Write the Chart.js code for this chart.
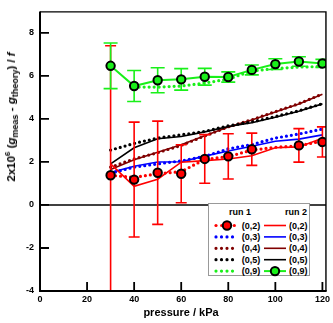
<!DOCTYPE html>
<html><head><meta charset="utf-8">
<script src="https://cdn.jsdelivr.net/npm/chart.js@4/dist/chart.umd.min.js"></script>
<style>
html,body{margin:0;padding:0;background:#fff;}
#wrap{position:relative;width:333px;height:323px;font-family:"Liberation Sans",Arial,sans-serif;color:#000;}
#c{position:absolute;left:0;top:0;}
#ytitle{position:absolute;left:11px;top:117px;transform:translate(-50%,-50%) rotate(-90deg);white-space:nowrap;font-weight:bold;font-size:11.5px;line-height:14px;}
#ytitle sub,#ytitle sup{font-size:9px;line-height:0;}
#ytitle sup{font-size:8px;}
#xtitle{position:absolute;left:181px;top:312px;transform:translate(-50%,-50%);font-weight:bold;font-size:11px;white-space:nowrap;}
#legend{position:absolute;left:208px;top:203px;width:102px;height:73px;border:1px solid #999;background:#fff;font-weight:bold;font-size:9px;box-sizing:border-box;}
#legend svg{position:absolute;left:-1px;top:-1px;}
#legend .t{position:absolute;white-space:nowrap;line-height:10px;transform:translateY(-50%);}
#legend .h{transform:translate(-50%,-50%);}
</style>
</head><body>
<div id="wrap">
<canvas id="c" width="333" height="323"></canvas>
<div id="ytitle">2x10<sup>6</sup> (<i>g</i><sub>meas</sub> - <i>g</i><sub>theory</sub>) / <i>f</i></div>
<div id="xtitle">pressure / kPa</div>
<div id="legend"></div>
</div>
<script>
// ---- data ----
const pressure = [30, 40, 50, 60, 70, 80, 90, 100, 110, 120];
const xTicks = [0, 20, 40, 60, 80, 100, 120];
const yTicks = [-4, -2, 0, 2, 4, 6, 8];

// run 1 (dotted lines)
const run1_02 = [1.38, 1.28, 1.45, 1.55, 2.12, 2.25, 2.55, 2.68, 2.75, 2.97];
const run1_03 = [1.48, 1.76, 1.91, 2.05, 2.26, 2.61, 2.81, 3.11, 3.30, 3.53];
const run1_04 = [1.76, 2.14, 2.43, 2.77, 3.21, 3.63, 3.96, 4.34, 4.71, 5.16];
const run1_05 = [2.55, 2.86, 3.11, 3.26, 3.42, 3.68, 3.86, 4.11, 4.38, 4.71];
const run1_09_p = [40, 50, 60, 70, 80, 90, 100, 110, 120];
const run1_09 = [5.48, 5.48, 5.53, 5.67, 5.85, 6.23, 6.34, 6.41, 6.44];

// run 1 (0,2) measured points with error bars
const run1_02pts_p = [30, 40, 50, 60, 70, 80, 90, 110, 120];
const run1_02pts = [1.38, 1.18, 1.50, 1.45, 2.14, 2.26, 2.59, 2.77, 2.93];
const run1_02err = [6.02, 2.67, 2.40, 1.35, 1.13, 1.05, 0.75, 0.78, 0.70];

// run 2 (solid lines)
const run2_02 = [1.91, 0.87, 1.20, 1.99, 2.06, 2.14, 2.29, 2.66, 2.70, 3.10];
const run2_03 = [1.51, 1.80, 2.00, 2.01, 2.27, 2.51, 2.73, 2.96, 3.06, 3.26];
const run2_04 = [1.65, 2.10, 2.45, 2.80, 3.22, 3.62, 3.95, 4.32, 4.70, 5.15];
const run2_05 = [1.91, 2.66, 3.08, 3.18, 3.40, 3.65, 3.82, 4.08, 4.36, 4.70];
const run2_09 = [6.47, 5.53, 5.80, 5.84, 5.96, 5.95, 6.28, 6.55, 6.67, 6.58];
const run2_09err = [1.06, 0.72, 0.58, 0.50, 0.39, 0.24, 0.23, 0.25, 0.22, 0.19];

const RED = '#ff0000', BLUE = '#0000ff', BROWN = '#800000', BLACK = '#000000', GREEN = '#19f019';

function pts(xs, ys) { return xs.map((x, i) => ({ x: x, y: ys[i] })); }

function dotted(label, ys, color, order, xs) {
  return { label, data: pts(xs || pressure, ys), borderColor: color, borderWidth: 3.2,
    borderDash: [0, 5], borderCapStyle: 'round', pointRadius: 0, fill: false, tension: 0, order };
}
function solid(label, ys, color, order) {
  return { label, data: pts(pressure, ys), borderColor: color, borderWidth: 1.6,
    pointRadius: 0, fill: false, tension: 0, order };
}

const datasets = [
  Object.assign(solid('run 2 (0,9)', run2_09, GREEN, 0), {
    borderWidth: 2, pointRadius: 4.2, pointBorderWidth: 2, pointBackgroundColor: GREEN,
    pointBorderColor: BLACK, errors: run2_09err, errorColor: GREEN, cap: 7 }),
  dotted('run 1 (0,9)', run1_09, GREEN, 1, run1_09_p),
  { label: 'run 1 (0,2) points', data: pts(run1_02pts_p, run1_02pts), showLine: false,
    pointRadius: 4.2, pointBorderWidth: 2, pointBackgroundColor: RED, pointBorderColor: BLACK,
    errors: run1_02err, errorColor: RED, cap: 5.5, order: 2 },
  dotted('run 1 (0,2)', run1_02, RED, 3),
  solid('run 2 (0,2)', run2_02, RED, 4),
  dotted('run 1 (0,5)', run1_05, BLACK, 5),
  solid('run 2 (0,5)', run2_05, BLACK, 6),
  dotted('run 1 (0,4)', run1_04, BROWN, 7),
  solid('run 2 (0,4)', run2_04, BROWN, 8),
  dotted('run 1 (0,3)', run1_03, BLUE, 9),
  solid('run 2 (0,3)', run2_03, BLUE, 10),
];

const errorBars = {
  id: 'errorBars',
  beforeDatasetDraw(chart, args) {
    const ds = chart.data.datasets[args.index];
    if (!ds.errors) return;
    const { ctx, chartArea: a } = chart;
    const xs = chart.scales.x, ys = chart.scales.y;
    ctx.save();
    ctx.beginPath(); ctx.rect(a.left, a.top, a.right - a.left, a.bottom - a.top); ctx.clip();
    ctx.strokeStyle = ds.errorColor; ctx.lineWidth = 1.6;
    ds.data.forEach((p, i) => {
      const e = ds.errors[i];
      const x = xs.getPixelForValue(p.x);
      const yt = ys.getPixelForValue(p.y + e), yb = ys.getPixelForValue(p.y - e);
      ctx.beginPath();
      ctx.moveTo(x, yt); ctx.lineTo(x, yb);
      ctx.moveTo(x - ds.cap, yt); ctx.lineTo(x + ds.cap, yt);
      ctx.moveTo(x - ds.cap, yb); ctx.lineTo(x + ds.cap, yb);
      ctx.stroke();
    });
    ctx.restore();
  }
};

const frame = {
  id: 'frame',
  beforeDatasetsDraw(chart) {
    const { ctx, chartArea: a } = chart;
    const y0 = chart.scales.y.getPixelForValue(0);
    ctx.save(); ctx.strokeStyle = BLACK; ctx.lineWidth = 1.6;
    ctx.beginPath(); ctx.moveTo(a.left, y0); ctx.lineTo(a.right, y0); ctx.stroke();
    ctx.restore();
  },
  afterDatasetsDraw(chart) {
    const { ctx, chartArea: a } = chart;
    const xs = chart.scales.x, ys = chart.scales.y;
    ctx.save(); ctx.strokeStyle = BLACK;
    ctx.lineWidth = 1.4;
    ctx.beginPath(); ctx.moveTo(a.left, a.top + 0.5); ctx.lineTo(a.right, a.top + 0.5); ctx.lineTo(a.right, a.bottom); ctx.stroke();
    ctx.lineWidth = 2;
    ctx.beginPath(); ctx.moveTo(a.left, a.top); ctx.lineTo(a.left, a.bottom); ctx.lineTo(a.right + 0.7, a.bottom); ctx.stroke();
    ctx.lineWidth = 1.8;
    ctx.beginPath();
    xTicks.forEach(v => { const x = xs.getPixelForValue(v); ctx.moveTo(x, a.bottom); ctx.lineTo(x, a.bottom - 9); });
    yTicks.forEach(v => { const y = ys.getPixelForValue(v); ctx.moveTo(a.left, y); ctx.lineTo(a.left + 9, y); });
    ctx.stroke();
    ctx.restore();
  }
};

const tickFont = { family: '"Liberation Sans", Arial, sans-serif', size: 9, weight: 'bold' };

new Chart(document.getElementById('c'), {
  type: 'line',
  data: { datasets },
  options: {
    responsive: false, animation: false, events: [],
    layout: { padding: { top: 1, right: 5, left: 0, bottom: 0 } },
    plugins: { legend: { display: false }, tooltip: { enabled: false } },
    scales: {
      x: { type: 'linear', min: 0, max: 121.5,
        grid: { display: false, drawTicks: false }, border: { display: false },
        ticks: { font: tickFont, color: BLACK, padding: 3, maxRotation: 0 },
        afterBuildTicks: s => { s.ticks = xTicks.map(v => ({ value: v })); },
        afterFit: s => { s.height = 32; } },
      y: { type: 'linear', min: -4, max: 9,
        grid: { display: false, drawTicks: false }, border: { display: false },
        ticks: { font: tickFont, color: BLACK, padding: 6 },
        afterBuildTicks: s => { s.ticks = yTicks.map(v => ({ value: v })); },
        afterFit: s => { s.width = 40; } }
    }
  },
  plugins: [errorBars, frame]
});

// ---- legend (HTML text + small svg samples) ----
const legendRows = [
  { name: '(0,2)', color: RED, dotCircle: true },
  { name: '(0,3)', color: BLUE },
  { name: '(0,4)', color: BROWN },
  { name: '(0,5)', color: BLACK },
  { name: '(0,9)', color: GREEN, solidCircle: true },
];
(function buildLegend() {
  const L = document.getElementById('legend');
  const rowY = [22.5, 33.9, 45.3, 56.7, 68.1];
  let svg = '<svg width="104" height="75" xmlns="http://www.w3.org/2000/svg">';
  let html = '<div class="t h" style="left:31px;top:8px">run 1</div><div class="t h" style="left:87px;top:8px">run 2</div>';
  legendRows.forEach((r, i) => {
    const y = rowY[i];
    if (r.dotCircle) {
      [8, 13.7, 26.3].forEach(x => { svg += `<circle cx="${x}" cy="${y}" r="1.6" fill="${r.color}"/>`; });
      svg += `<circle cx="19" cy="${y}" r="4.2" fill="${r.color}" stroke="#000" stroke-width="2"/>`;
    } else {
      svg += `<line x1="8" y1="${y}" x2="25" y2="${y}" stroke="${r.color}" stroke-width="3.2" stroke-dasharray="0 5.5" stroke-linecap="round"/>`;
    }
    svg += `<line x1="56" y1="${y}" x2="78" y2="${y}" stroke="${r.color}" stroke-width="${r.solidCircle ? 2 : 1.6}"/>`;
    if (r.solidCircle) svg += `<circle cx="67" cy="${y}" r="4.2" fill="${r.color}" stroke="#000" stroke-width="2"/>`;
    html += `<div class="t" style="left:${32.7}px;top:${y - 1}px">${r.name}</div>`;
    html += `<div class="t" style="left:${80}px;top:${y - 1}px">${r.name}</div>`;
  });
  svg += '</svg>';
  L.innerHTML = svg + html;
})();
</script>
</body></html>
